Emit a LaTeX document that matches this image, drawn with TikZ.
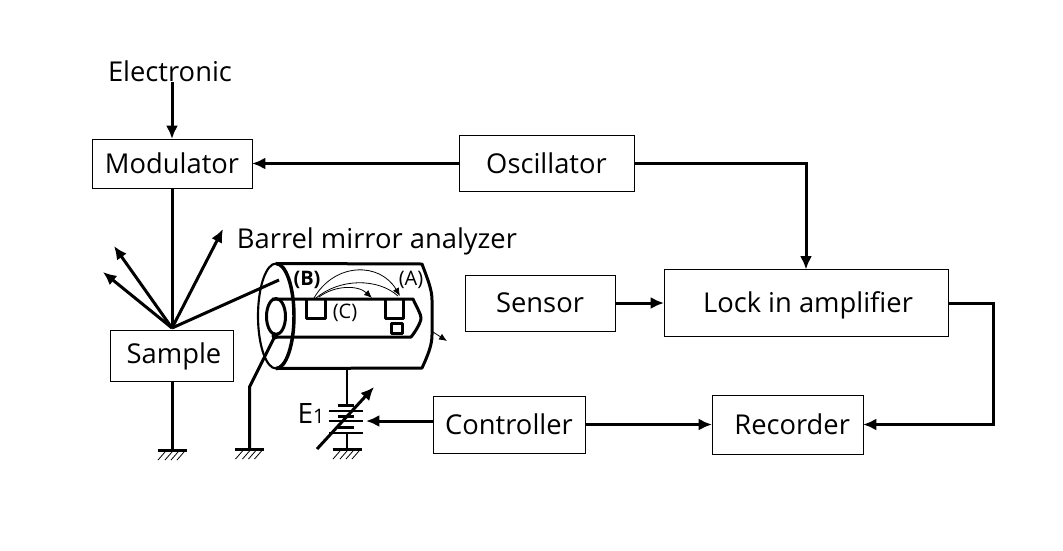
\documentclass[tikz,border=0pt]{standalone}
\usepackage{xcolor}
\usepackage{fontspec}
\setmainfont{Open Sans}
\usetikzlibrary{arrows.meta}
\usetikzlibrary{positioning}
\usetikzlibrary{calc}
\tikzset{%
  base/.style = {rectangle, draw=black, line width=0.75pt, inner sep=0pt, outer sep=0pt, text height=14.6pt, text depth=0pt, font=\fontsize{20.5}{24}\selectfont},
  txt/.style = {inner sep=0pt, font=\fontsize{20.5}{24}\selectfont},
  tag/.style = {inner sep=0pt, font=\fontsize{15}{17}\selectfont},
  wire/.style = {line width=2.25pt, -{Latex[length=10pt,width=9pt]}},
  plain wire/.style = {line width=2.25pt},
  thin wire/.style = {line width=0.9pt},
  shell/.style = {line width=2.25pt, line join=round},
  small tip/.style = {line width=0.6pt, -{Latex[length=6pt,width=5pt]}},
  ground/.pic = {
    \draw[line width=2.25pt] (-14.5,0) -- (14.5,0);
    \foreach \hx in {-7,0,6,12}
      \draw[line width=0.6pt] (\hx,2) -- (\hx-7,10);
  }
}

\begin{document}
\begin{tikzpicture}[x=0.75pt, y=-0.75pt]
  \useasboundingbox (0,0) rectangle (1063,550);

  % Specification of nodes (position, etc.)
  \node (electronic) [txt] at (170,71) {Electronic};
  \node (modulator) [base,minimum width=120pt,minimum height=36.75pt] at (172,163.5) {Modulator};
  \node (oscillator) [base,minimum width=131.25pt,minimum height=42pt,right=155.25pt of modulator] {Oscillator};
  \node (sample) [base,minimum width=92.25pt,minimum height=38.25pt,below=106.5pt of modulator] {\hspace{3pt}\raisebox{1.5pt}{Sample}};
  \node (sensor) [base,minimum width=112.5pt,minimum height=42pt] at (540,303) {Sensor};
  \node (lockin) [base,minimum width=213pt,minimum height=50.25pt,right=36.75pt of sensor] {\hspace{3pt}Lock in amplifier};
  \node (controller) [base,minimum width=114pt,minimum height=42.75pt] at (509,424.5) {Controller};
  \node (recorder) [base,minimum width=113.25pt,minimum height=44.25pt,right=95.25pt of controller] {\hspace{7pt}Recorder};
  \node (barrel) [txt] at (377,241) {Barrel mirror analyzer};
  \node (e-one) [txt,font=\fontsize{21}{23}\selectfont] at (311,413) {E{\fontsize{15}{17}\selectfont 1}};
  \node (tag-a) [tag] at (411,280) {(A)};
  \node (tag-b) [tag,font=\fontsize{15}{17}\selectfont\bfseries] at (307,280) {(B)};
  \node (tag-c) [tag] at (345,313) {(C)};

  \coordinate (hit) at (172,328);
  \coordinate (ray-a) at (223,229);
  \coordinate (ray-b) at (114,246);
  \coordinate (ray-c) at (103,272);
  \coordinate (window) at (279,280);
  \coordinate (turn) at (993,360);
  \coordinate (bat-in) at (366,421);
  \coordinate (bat-top) at (347,369);
  \coordinate (inner-dot) at (275,336);
  \coordinate (g-sample) at (172,450);
  \coordinate (g-inner) at (249.5,449);
  \coordinate (g-bat) at (347,449);

  % Connections between the boxes
  \draw[wire] (electronic.south -| modulator.north) -- (modulator);
  \draw[wire] (oscillator) -- (modulator);
  \draw[wire] (oscillator) -| (lockin);
  \draw[wire] (sensor) -- (lockin);
  \draw[wire] (lockin) -| (turn) |- (recorder);
  \draw[wire] (controller) -- (recorder);
  \draw[wire] (controller.west |- bat-in) -- (bat-in);

  % Sample, rays and ground wires
  \draw[plain wire] (modulator) -- (hit);
  \draw[wire] (hit) -- (ray-a);
  \draw[wire] (hit) -- (ray-b);
  \draw[wire] (hit) -- (ray-c);
  \draw[plain wire] (hit) -- (window);
  \draw[plain wire] (sample) -- (g-sample);
  \draw[plain wire] (inner-dot) -- (249.5,387) -- (g-inner);
  \fill (inner-dot) circle (3.5);
  \pic at (g-sample) {ground};
  \pic at (g-inner) {ground};
  \pic at (g-bat) {ground};

  % Analyzer body
  \draw[shell] (276,263.5) -- (422,264) .. controls (428,280) and (432,290) .. (432,300)
    -- (432,335) .. controls (432,345) and (428,355) .. (422,368) -- (276,368.5);
  \draw[line width=1.6pt] (276,316) ellipse (18 and 52.5);
  \draw[line width=2.6pt] (276,368.5) arc[start angle=90, end angle=-90, x radius=18, y radius=52.5];
  \draw[shell] (276,316.5) ellipse (9.5 and 18);
  \draw[shell] (272,299) -- (413,299) .. controls (417,308) and (421,314) .. (421,318)
    .. controls (421,322) and (416,331) .. (411,337) -- (276,337);
  \draw[shell] (306,300) -- (306,318) -- (325,318) -- (325,300);
  \draw[shell] (385,300) -- (385,318) -- (403,318) -- (403,300);
  \draw[shell] (391,323) rectangle (402,333);
  \draw[small tip] (314,298) .. controls (335,262) and (380,262) .. (400,296);
  \draw[line width=0.6pt] (316,298) .. controls (340,278) and (378,278) .. (398,296);
  \draw[small tip] (319,297) .. controls (335,285) and (358,285) .. (372,298);
  \draw[small tip] (433,332) -- (447,341);

  % Battery
  \draw[thin wire] (bat-top) -- (347,405);
  \draw[thin wire] (347,433) -- (g-bat);
  \foreach \py in {405,416,427}
    \draw[line width=2.25pt] (338,\py) -- (354,\py);
  \foreach \py in {411,421,433}
    \draw[thin wire] (329,\py) -- (363,\py);
  \draw[wire] (317,449) -- (374,387);
\end{tikzpicture}
\end{document}
